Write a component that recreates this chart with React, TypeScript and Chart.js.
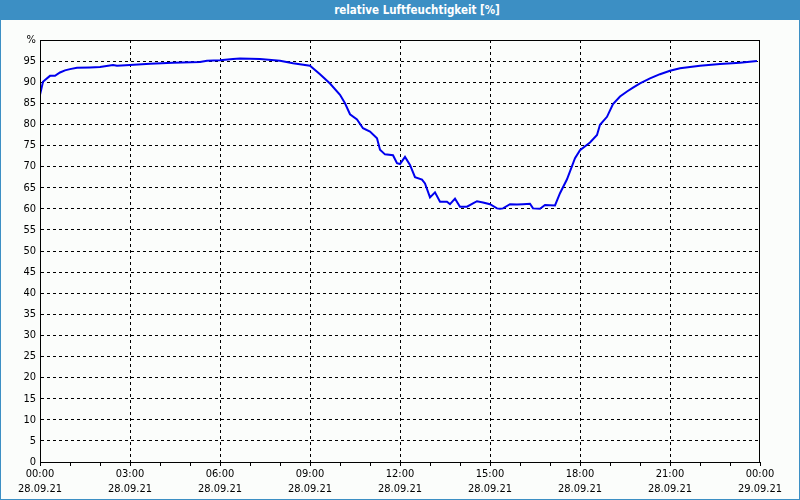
import React, { useEffect, useRef } from "react";
import { Chart, registerables } from "chart.js";

Chart.register(...registerables);

// minutes since 28.09.21 00:00
const minutes = [
  0, 6, 10, 20, 30, 40, 50, 60, 74, 100, 120, 146, 154, 180, 220, 266, 320, 334, 360, 386,
  400, 440, 480, 506, 540, 560, 580, 600, 610, 620, 634, 646, 660, 674, 680, 690, 706, 714,
  720, 730, 740, 750, 764, 770, 780, 790, 800, 814, 820, 830, 840, 854, 866, 874, 886, 900,
  914, 920, 926, 940, 954, 966, 980, 986, 1000, 1010, 1030, 1040, 1054, 1070, 1080, 1100,
  1114, 1120, 1134, 1146, 1160, 1174, 1186, 1200, 1220, 1240, 1260, 1280, 1320, 1360, 1400,
  1434,
];

const humidity = [
  87.0, 90.1, 90.5, 91.5, 91.5, 92.3, 92.8, 93.1, 93.4, 93.5, 93.6, 94.1, 93.9, 94.1, 94.4,
  94.6, 94.8, 95.1, 95.2, 95.5, 95.6, 95.5, 95.1, 94.5, 93.9, 91.9, 89.7, 87.0, 85.0, 82.4,
  81.2, 79.1, 78.3, 76.7, 74.0, 72.9, 72.7, 70.8, 70.6, 72.3, 70.4, 67.5, 66.9, 66.0, 62.7,
  63.9, 61.7, 61.7, 61.1, 62.4, 60.5, 60.5, 61.3, 61.8, 61.5, 61.1, 60.1, 60.0, 60.1, 61.1,
  61.0, 61.1, 61.2, 60.1, 60.0, 60.9, 60.8, 63.7, 67.0, 72.0, 73.9, 75.7, 77.5, 79.9, 81.8,
  84.8, 86.6, 87.8, 88.7, 89.7, 90.9, 91.9, 92.7, 93.3, 93.9, 94.3, 94.6, 95.0,
];

const timeLabels = ["00:00", "03:00", "06:00", "09:00", "12:00", "15:00", "18:00", "21:00", "00:00"];
const dateLabels = [
  "28.09.21", "28.09.21", "28.09.21", "28.09.21", "28.09.21",
  "28.09.21", "28.09.21", "28.09.21", "29.09.21",
];

const TITLE = "relative Luftfeuchtigkeit [%]";
const FONT = "'DejaVu Sans Condensed', 'DejaVu Sans', sans-serif";

const frame = {
  id: "frame",
  afterDraw(chart: any) {
    const { ctx, chartArea } = chart;
    ctx.save();
    ctx.strokeStyle = "#000";
    ctx.lineWidth = 1;
    ctx.setLineDash([]);
    ctx.strokeRect(
      Math.round(chartArea.left) + 0.5,
      Math.round(chartArea.top) + 0.5,
      Math.round(chartArea.right - chartArea.left) - 1,
      Math.round(chartArea.bottom - chartArea.top)
    );
    ctx.restore();
  },
};

export default function App() {
  const ref = useRef<HTMLCanvasElement>(null);

  useEffect(() => {
    document.body.style.margin = "0";
    const canvas = ref.current!;
    const chart = new Chart(canvas, {
      type: "line",
      data: {
        datasets: [
          {
            data: minutes.map((m, i) => ({ x: m, y: humidity[i] })),
            borderColor: "#0000ee",
            borderWidth: 2,
            pointRadius: 0,
            tension: 0,
            fill: false,
          },
        ],
      },
      options: {
        animation: false,
        responsive: false,
        devicePixelRatio: 1,
        layout: { padding: { left: 0, right: 40, top: 20, bottom: 0 } },
        plugins: { legend: { display: false }, tooltip: { enabled: false } },
        scales: {
          x: {
            type: "linear",
            min: 0,
            max: 1440,
            afterFit: (s: any) => {
              s.height = 38;
            },
            afterBuildTicks: (s: any) => {
              const t = [];
              for (let v = 0; v <= 1440; v += 60) t.push({ value: v });
              s.ticks = t;
            },
            ticks: {
              autoSkip: false,
              maxRotation: 0,
              padding: 0,
              color: "#000",
              font: { family: FONT, size: 11, lineHeight: 1.4 },
              callback: (v: any) => {
                const n = Number(v);
                if (n % 180 !== 0) return "";
                const i = n / 180;
                return [timeLabels[i], dateLabels[i]];
              },
            },
            grid: {
              drawTicks: true,
              tickLength: 4,
              tickColor: "#000",
              tickBorderDash: [],
              color: (c: any) => {
                const v = c.tick ? c.tick.value : -1;
                return v % 180 === 0 && v > 0 && v < 1440 ? "#000" : "rgba(0,0,0,0)";
              },
              lineWidth: 1,
            } as any,
            border: { display: true, color: "#000", width: 1, dash: [3, 3] },
          },
          y: {
            min: 0,
            max: 100,
            afterFit: (s: any) => {
              s.width = 40;
            },
            ticks: {
              stepSize: 5,
              padding: 4,
              color: "#000",
              font: { family: FONT, size: 11 },
              callback: (v: any) => (Number(v) === 100 ? "%" : String(v)),
            },
            grid: {
              drawTicks: false,
              color: (c: any) => {
                const v = c.tick ? c.tick.value : -1;
                return v > 0 && v < 100 ? "#000" : "rgba(0,0,0,0)";
              },
              lineWidth: 1,
            } as any,
            border: { display: true, color: "#000", width: 1, dash: [3, 3] },
          },
        },
      } as any,
      plugins: [frame],
    });
    return () => chart.destroy();
  }, []);

  return (
    <div
      style={{
        position: "absolute",
        left: 0,
        top: 0,
        width: 800,
        height: 500,
        background: "#fbfdfb",
        overflow: "hidden",
      }}
    >
      <div
        style={{
          position: "absolute",
          left: 0,
          top: 0,
          width: 800,
          height: 20,
          background: "#3c8fc4",
          color: "#fff",
          fontFamily: FONT,
          fontWeight: "bold",
          fontSize: 11.5,
          lineHeight: "20px",
          textAlign: "center",
          paddingLeft: 34,
          boxSizing: "border-box",
        }}
      >
        {TITLE}
      </div>
      <canvas
        ref={ref}
        width={800}
        height={480}
        style={{ position: "absolute", left: 0, top: 20, width: 800, height: 480 }}
      />
      <div
        style={{
          position: "absolute",
          left: 0,
          top: 0,
          width: 800,
          height: 500,
          border: "1px solid #3c8fc4",
          boxSizing: "border-box",
          pointerEvents: "none",
        }}
      />
    </div>
  );
}
